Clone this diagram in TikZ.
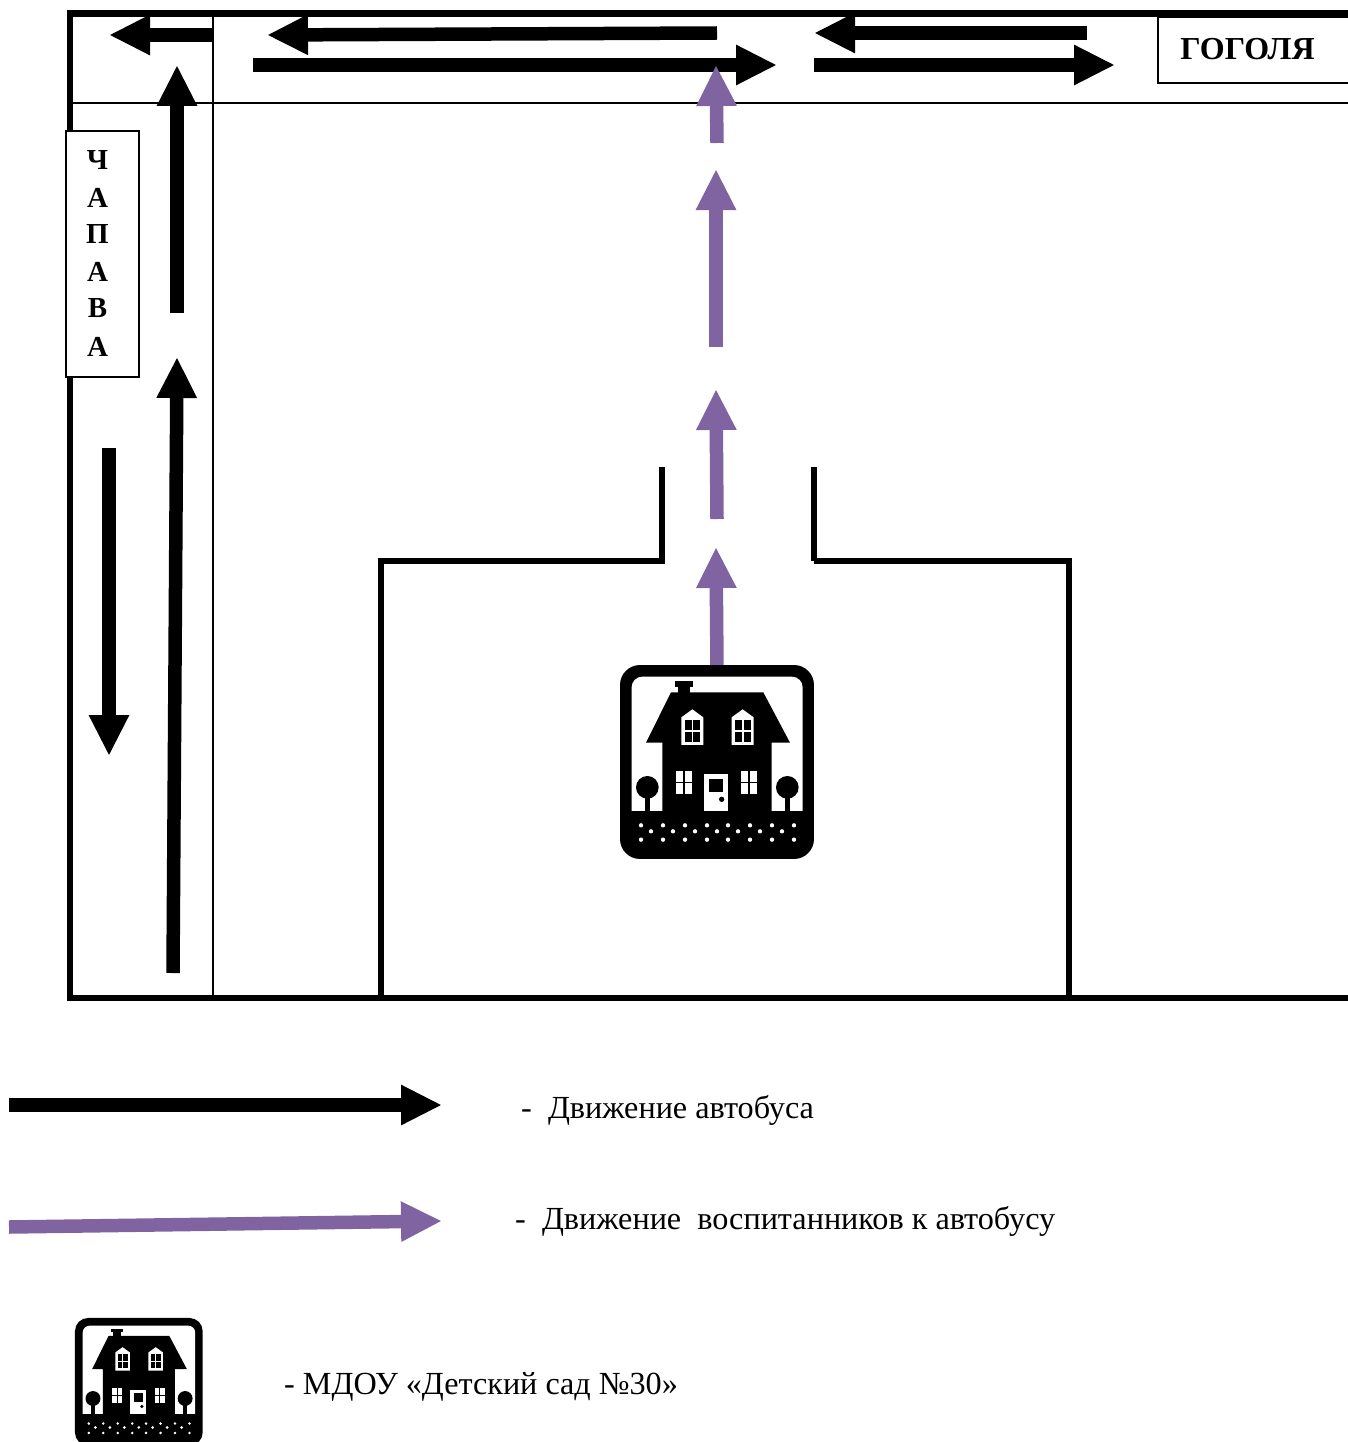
\documentclass[tikz,border=0pt]{standalone}
\usepackage{fontspec}
\setmainfont{Liberation Serif}
\usetikzlibrary{arrows.meta}
\definecolor{walk}{HTML}{8064A2}
\tikzset{
  busarrow/.style={draw=black,line width=13.5pt,-{Triangle[length=41pt,width=37.5pt]}},
  kidarrow/.style={draw=walk,line width=13.5pt,-{Triangle[length=41pt,width=37.5pt]},walk},
  frameline/.style={draw=black,line width=6.5pt},
  thinline/.style={draw=black,line width=2pt},
  wall/.style={draw=black,line width=6.8pt,line cap=butt},
  namebox/.style={draw=black,line width=2pt,fill=white},
  street/.style={font=\bfseries\fontsize{29}{29}\selectfont,inner sep=0pt},
  legend/.style={anchor=west,inner sep=0pt,font=\fontsize{32.2}{32.2}\selectfont}
}
% #1 x, #2 y of local origin, #3 scale
\newcommand{\HouseIcon}[3]{%
\begin{scope}[shift={(#1,#2)},x=#3pt,y=-#3pt]
  \pgfmathsetmacro{\ro}{60*#3}\pgfmathsetmacro{\ri}{32*#3}
  \fill[black,rounded corners=\ro pt] (30,30) rectangle (612,612);
  \fill[white,rounded corners=\ri pt] (65,530) -- (65,65) -- (578,65) -- (578,530) -- cycle;
  \fill[black] (60,467) rectangle (583,540);
  \fill[black] (195,78) rectangle (249,95);
  \fill[black] (205,95) rectangle (240,115);
  \fill[black] (183,112) -- (460,112) -- (540,263) -- (485,263) -- (485,470) -- (157,470) -- (157,263) -- (108,263) -- cycle;
  \foreach \dx in {0,151}{
    \fill[white] (214+\dx,187) -- (247+\dx,163) -- (280+\dx,187) -- (280+\dx,270) -- (214+\dx,270) -- cycle;
    \fill[black] (224+\dx,194) rectangle (245+\dx,226);
    \fill[black] (250+\dx,194) rectangle (271+\dx,226);
    \fill[black] (224+\dx,231) rectangle (245+\dx,260);
    \fill[black] (250+\dx,231) rectangle (271+\dx,260);
  }
  \foreach \dx in {0,195}{
    \fill[white] (198+\dx,348) rectangle (220+\dx,380);
    \fill[white] (224+\dx,348) rectangle (246+\dx,380);
    \fill[white] (198+\dx,385) rectangle (220+\dx,417);
    \fill[white] (224+\dx,385) rectangle (246+\dx,417);
  }
  \fill[white] (282,357) rectangle (354,467);
  \fill[black] (297,372) rectangle (339,411);
  \fill[black] (335,433) circle[radius=8];
  \foreach \cx in {112,532}{
    \fill[black] (\cx,397) circle[radius=34];
    \fill[black] (\cx-8,420) rectangle (\cx+8,470);
  }
  \foreach \cx in {93,159,225,291,354,420,486,552}{
    \fill[white] (\cx,511) circle[radius=6.5];
    \fill[white] (\cx,554) circle[radius=6.5];
  }
  \foreach \cx in {123,189,255,321,384,450,516}{
    \fill[white] (\cx,529) circle[radius=6.5];
  }
\end{scope}}
\begin{document}
\begin{tikzpicture}[x=1pt,y=-1pt]
\useasboundingbox (0,0) rectangle (1348,1442);
% roads
\draw[frameline] (1348,13.3) -- (70,13.3) -- (70,998) -- (1348,998);
\draw[thinline] (72,103) -- (1348,103);
\draw[thinline] (213,15) -- (213,996);
% yard
\draw[wall] (381,998) -- (381,558);
\draw[wall] (381,561) -- (662,561);
\draw[wall] (662,564) -- (662,467);
\draw[wall] (814,467) -- (814,561);
\draw[wall] (814,561) -- (1072,561);
\draw[wall] (1069,558) -- (1069,998);
% bus arrows
\draw[busarrow] (213,35) -- (109,35);
\draw[busarrow] (717,33) -- (267,35);
\draw[busarrow] (253,65) -- (777,65);
\draw[busarrow] (1087,33) -- (814,33);
\draw[busarrow] (814,65) -- (1115,65);
\draw[busarrow] (177,313) -- (177,65);
\draw[busarrow] (173,973) -- (177,357);
\draw[busarrow] (109,448) -- (109,756);
% pupils
\draw[kidarrow] (717,143) -- (716,65);
\draw[kidarrow] (716,347) -- (716,169);
\draw[kidarrow] (717,519) -- (716,389);
\draw[kidarrow] (717,667) -- (716,547);
\HouseIcon{610}{655}{0.3333}
% street names
\node[namebox,minimum width=73pt,minimum height=246pt,inner sep=0pt] (chapbox) at (102.5,254) {};
\foreach \nm/\ch/\yy in {c1/Ч/160.5,c2/А/198,c3/П/234.5,c4/А/272,c5/В/308.5,c6/А/347}
  \node[street] (\nm) at (97.5,\yy) {\ch};
\fill[white] (1158,17) rectangle (1348,83);
\draw[line width=2pt] (1348,17) -- (1158,17) -- (1158,83) -- (1348,83);
\node[street,font=\bfseries\fontsize{32}{32}\selectfont] (gogol) at (1247.5,49) {ГОГОЛЯ};
% legend
\draw[busarrow] (9,1105) -- (442,1105);
\draw[kidarrow] (9,1227) -- (442,1221);
\node[legend] (l1) at (521,1110) {-\ \ Движение автобуса};
\node[legend] (l2) at (515,1221) {-\ \ Движение\ \ воспитанников к автобусу};
\HouseIcon{68.4}{1311.4}{0.2194}
\node[legend] (l3) at (284,1387) {- МДОУ «Детский сад №30»};
\end{tikzpicture}
\end{document}
